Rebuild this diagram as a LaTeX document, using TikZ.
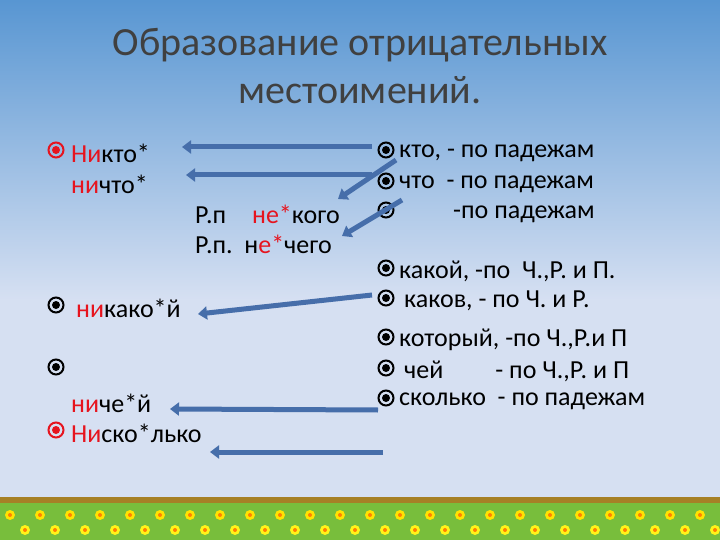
\documentclass[tikz,border=0pt]{standalone}
\usepackage{fontspec}
\setmainfont{Carlito}
\usetikzlibrary{arrows.meta}
\definecolor{skyA}{RGB}{88,150,210}
\definecolor{skyB}{RGB}{214,224,242}
\definecolor{arr}{RGB}{70,110,170}
\definecolor{redt}{RGB}{230,20,30}
\definecolor{grass}{RGB}{120,190,60}
\begin{document}
\begin{tikzpicture}[x=1pt,y=-1pt,
  txt/.style={anchor=west,inner sep=0pt,yshift=-3pt,font=\fontsize{26}{28}\selectfont},
  ttl/.style={inner sep=0pt,font=\fontsize{40}{44}\selectfont,text=black!75},
  arrw/.style={draw=arr,line width=5pt,-{Triangle[length=9pt,width=13pt]}}]
\useasboundingbox (0,0) rectangle (720,540);
\shade[top color=skyA,bottom color=skyB] (0,0) rectangle (720,300);
\fill[skyB] (0,299) rectangle (720,498);
\fill[grass] (0,497) rectangle (720,540);
\fill[brown!60!olive] (0,497) rectangle (720,503);
\foreach \x in {10,40,...,710}{\fill[yellow!85!orange] (\x,515) circle (5pt);\fill[orange] (\x,515) circle (2pt);}
\foreach \x in {25,55,...,715}{\fill[yellow!90] (\x,530) circle (5pt);\fill[orange] (\x,530) circle (2pt);}
\node[ttl] (t1) at (360,45) {Образование отрицательных};
\node[ttl] (t2) at (360,90) {местоимений.};
% bullets
\newcommand{\bul}[3]{\node[circle,draw=#1,line width=2pt,minimum size=15pt,inner sep=0pt] (#3) at #2 {};\fill[#1] (#3) circle (4pt);}
\bul{redt}{(56,150)}{b1}
\bul{black}{(56,305)}{b2}
\bul{black}{(56,367)}{b3}
\bul{redt}{(56,430)}{b4}
\bul{black}{(386,150)}{r1}
\bul{black}{(386,181)}{r2}
\bul{black}{(386,210)}{r3}
\bul{black}{(386,268)}{r4}
\bul{black}{(386,298)}{r5}
\bul{black}{(386,337)}{r6}
\bul{black}{(386,368)}{r7}
\bul{black}{(386,398)}{r8}
\node[txt] (l1) at (71,150) {\textcolor{redt}{Ни}кто*};
\node[txt] (l2) at (71,181) {\textcolor{redt}{ни}что*};
\node[txt] (l3) at (195,211) {Р.п\quad\textcolor{redt}{не*}кого};
\node[txt] (l4) at (195,241) {Р.п.\ \ н\textcolor{redt}{е*}чего};
\node[txt] (l5) at (76,305) {\textcolor{redt}{ни}како*й};
\node[txt] (l6) at (71,400) {\textcolor{redt}{ни}че*й};
\node[txt] (l7) at (71,430) {\textcolor{redt}{Ни}ско*лько};
\node[txt] (q1) at (399,150) {кто, - по падежам};
\node[txt] (q2) at (399,181) {что\ \ - по падежам};
\node[txt] (q3) at (453,211) {-по падежам};
\node[txt] (q4) at (399,268) {какой, -по\ \ Ч.,Р. и П.};
\node[txt] (q5) at (404,298) {каков, - по Ч. и Р.};
\node[txt] (q6) at (399,337) {который, -по Ч.,Р.и П};
\node[txt] (q7) at (404,368) {чей\qquad - по Ч.,Р. и П};
\node[txt] (q8) at (399,398) {сколько\ \ - по падежам};
\coordinate (a1s) at (372,147); \coordinate (a1e) at (182,147);
\coordinate (a2s) at (372,175); \coordinate (a2e) at (186,175);
\coordinate (a3s) at (396,160); \coordinate (a3e) at (338,199);
\coordinate (a4s) at (402,200); \coordinate (a4e) at (342,236);
\coordinate (a5s) at (372,295); \coordinate (a5e) at (198,314);
\coordinate (a6s) at (378,410); \coordinate (a6e) at (170,409);
\coordinate (a7s) at (383,452); \coordinate (a7e) at (210,452);
\foreach \i in {1,...,7}{\draw[arrw] (a\i s) -- (a\i e);}
\end{tikzpicture}
\end{document}
